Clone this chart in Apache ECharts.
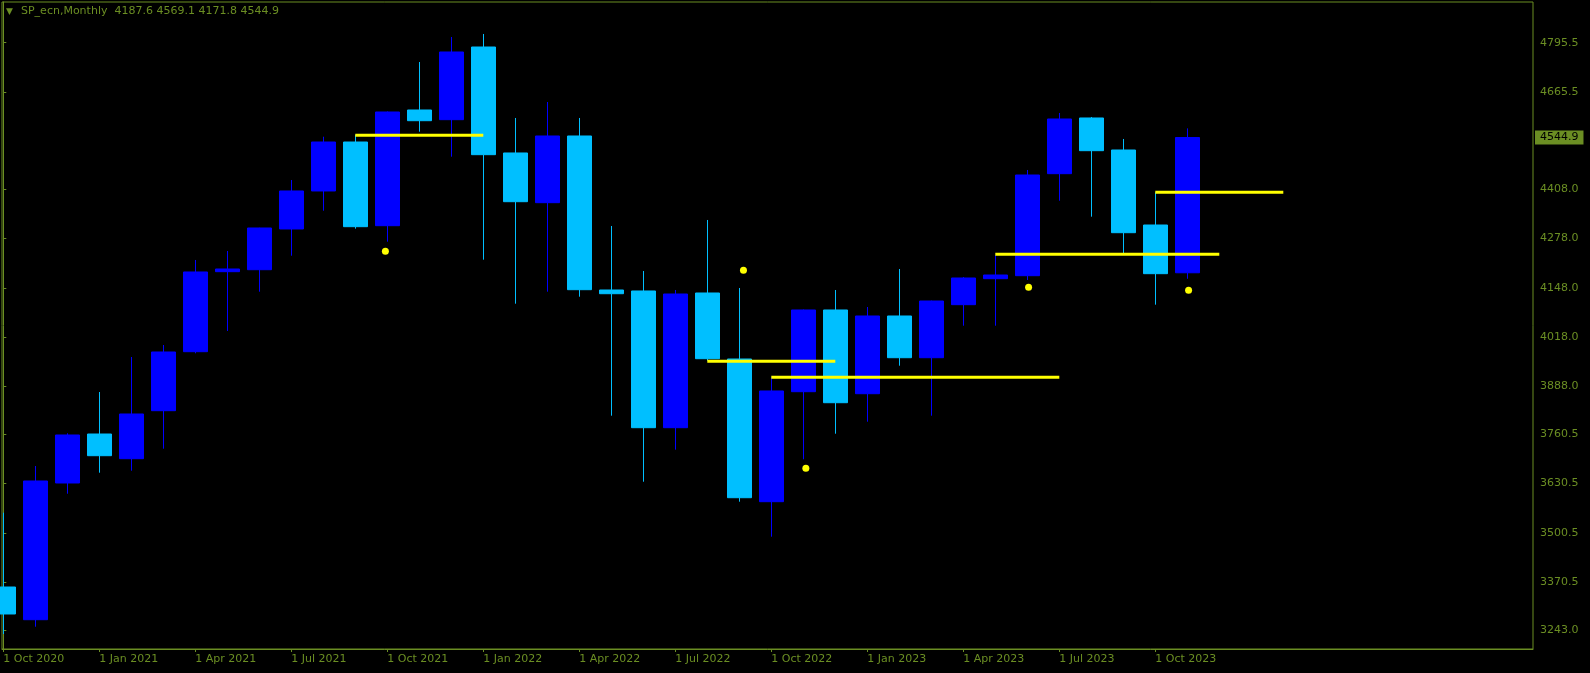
<!DOCTYPE html>
<html>
<head>
<meta charset="utf-8">
<script src="https://cdn.jsdelivr.net/npm/echarts@6.0.0/dist/echarts.min.js"></script>
<style>
html,body{margin:0;padding:0;background:#000;}
#chart{width:1590px;height:673px;}
</style>
</head>
<body>
<div id="chart"></div>
<script>
// Monthly bars, Oct 2020 .. Nov 2023 (index 0..37)
const months = ['2020-10','2020-11','2020-12','2021-01','2021-02','2021-03','2021-04','2021-05','2021-06','2021-07','2021-08','2021-09','2021-10','2021-11','2021-12','2022-01','2022-02','2022-03','2022-04','2022-05','2022-06','2022-07','2022-08','2022-09','2022-10','2022-11','2022-12','2023-01','2023-02','2023-03','2023-04','2023-05','2023-06','2023-07','2023-08','2023-09','2023-10','2023-11'];
const openV  = [3357.4,3271.0,3632.2,3761.6,3696.4,3823.2,3979.1,4190.5,4195.7,4303.3,4403.7,4533.1,4312.0,4617.7,4592.1,4784.1,4504.1,4372.8,4549.0,4142.1,4139.5,3778.3,4134.2,3959.8,3582.8,3873.4,4089.3,3868.1,4073.4,3963.2,4103.3,4172.0,4179.9,4449.4,4596.6,4512.0,4313.8,4187.6];
const highV  = [3553.7,3677.1,3763.5,3872.6,3965.1,3996.8,4221.4,4245.2,4306.5,4432.7,4547.1,4552.4,4613.7,4744.5,4810.6,4818.5,4596.6,4638.8,4596.6,4311.2,4192.3,4142.1,4327.1,4147.4,3911.5,4090.5,4142.1,4097.2,4197.6,4114.0,4176.4,4234.6,4459.2,4609.8,4599.2,4541.1,4400.2,4569.1];
const lowV   = [3233.2,3252.5,3603.9,3659.4,3664.7,3722.8,3974.9,4033.8,4137.6,4232.7,4351.6,4304.1,4269.7,4560.4,4494.3,4222.2,4105.9,4137.6,4124.4,3810.0,3635.6,3720.2,3955.0,3582.8,3490.3,3694.8,3762.4,3794.1,3942.1,3810.0,4047.8,4047.8,4168.5,4378.0,4335.8,4239.1,4103.3,4171.8];
const closeV = [3286.1,3637.5,3759.0,3704.3,3814.5,3978.3,4189.7,4197.6,4305.9,4403.7,4533.1,4309.4,4612.4,4589.4,4770.9,4499.6,4375.4,4549.0,4142.9,4132.3,3778.3,4131.5,3960.6,3593.3,3875.3,4089.3,3844.3,4073.4,3963.2,4113.0,4173.8,4181.7,4445.9,4593.9,4510.2,4293.5,4185.2,4544.9];

// Yellow horizontal level segments (bar index from -> to, price)
const levelFrom  = [11, 22, 24, 31, 36];
const levelTo    = [15, 26, 33, 38, 40];
const levelPrice = [4550.8, 3953.7, 3911.5, 4236.4, 4400.2];

// Yellow dot markers (bar position, price)
const dotX = [11.94, 23.13, 25.08, 32.04, 37.04];
const dotY = [4244.4, 4194.2, 3671.0, 4149.2, 4141.3];

// Axis ticks
const xTickIdx = [0,3,6,9,12,15,18,21,24,27,30,33,36];
const xTickLabels = ['1 Oct 2020','1 Jan 2021','1 Apr 2021','1 Jul 2021','1 Oct 2021','1 Jan 2022','1 Apr 2022','1 Jul 2022','1 Oct 2022','1 Jan 2023','1 Apr 2023','1 Jul 2023','1 Oct 2023'];
const yTicks = [4795.5,4665.5,4408.0,4278.0,4148.0,4018.0,3888.0,3760.5,3630.5,3500.5,3370.5,3243.0];

const FG = '#6b8e23';
const FONT = 'DejaVu Sans';
const last = months.length - 1;

const candleData = openV.map((o, i) => [i, o, closeV[i], lowV[i], highV[i]]);

const levelSeries = levelFrom.map((f, k) => ({
  type: 'line',
  data: [[f, levelPrice[k]], [levelTo[k], levelPrice[k]]],
  symbol: 'none',
  silent: true,
  z: 5,
  lineStyle: { color: '#ffff00', width: 3 },
  animation: false
}));

const chart = echarts.init(document.getElementById('chart'), null, { renderer: 'canvas', width: 1590, height: 673 });
chart.setOption({
  backgroundColor: '#000',
  animation: false,
  title: {
    left: 6, top: 6, padding: 0,
    text: '{t|▼}{m|SP_ecn,Monthly  ' + [openV[last], highV[last], lowV[last], closeV[last]].map(v => v.toFixed(1)).join(' ') + '}',
    textStyle: {
      fontWeight: 'normal',
      rich: {
        t: { fontSize: 9, color: FG, fontFamily: FONT, fontWeight: 'normal', width: 15 },
        m: { fontSize: 11, color: FG, fontFamily: FONT, fontWeight: 'normal' }
      }
    }
  },
  grid: { left: 2, right: 57, top: 2, bottom: 24, show: true, borderColor: FG, borderWidth: 1 },
  xAxis: {
    type: 'value',
    min: -1.3 / 32,
    max: -1.3 / 32 + 1531 / 32,
    axisLine: { show: true, lineStyle: { color: FG } },
    axisTick: { show: true, customValues: xTickIdx, length: 3, lineStyle: { color: FG } },
    axisLabel: {
      customValues: xTickIdx,
      formatter: v => xTickLabels[xTickIdx.indexOf(v)],
      align: 'left', margin: 5, color: FG, fontFamily: FONT, fontSize: 11
    },
    splitLine: { show: false }
  },
  yAxis: {
    type: 'value',
    position: 'right',
    min: 3193.6,
    max: 4903.0,
    axisLine: { show: true, lineStyle: { color: FG } },
    axisTick: { show: true, customValues: yTicks, length: 3, lineStyle: { color: FG } },
    axisLabel: {
      customValues: yTicks,
      formatter: v => v.toFixed(1),
      margin: 7, color: FG, fontFamily: FONT, fontSize: 11
    },
    splitLine: { show: false }
  },
  series: [
    {
      type: 'candlestick',
      data: candleData,
      encode: { x: 0, y: [1, 2, 3, 4] },
      barWidth: 24,
      clip: true,
      z: 2,
      itemStyle: {
        color: '#0000ff', color0: '#00bfff',
        borderColor: '#0000ff', borderColor0: '#00bfff',
        borderWidth: 1
      },
      animation: false
    },
    ...levelSeries,
    {
      type: 'scatter',
      data: dotX.map((x, i) => [x, dotY[i]]),
      symbol: 'circle',
      symbolSize: 7,
      z: 6,
      itemStyle: { color: '#ffff00', opacity: 1 },
      silent: true,
      animation: false
    },
    {
      type: 'line',
      data: [[last, closeV[last]]],
      symbol: 'none',
      clip: false,
      silent: true,
      z: 10,
      lineStyle: { color: 'rgba(0,0,0,0)' },
      markLine: {
        silent: true,
        symbol: ['none', 'none'],
        lineStyle: { color: 'rgba(0,0,0,0)', width: 1, type: 'solid' },
        data: [{ yAxis: closeV[last] }],
        label: {
          show: true,
          position: 'end',
          distance: 2,
          formatter: closeV[last].toFixed(1),
          color: '#000',
          backgroundColor: FG,
          padding: [2, 5, 1, 5],
          fontFamily: FONT,
          fontSize: 11
        }
      },
      animation: false
    }
  ]
});
</script>
</body>
</html>
